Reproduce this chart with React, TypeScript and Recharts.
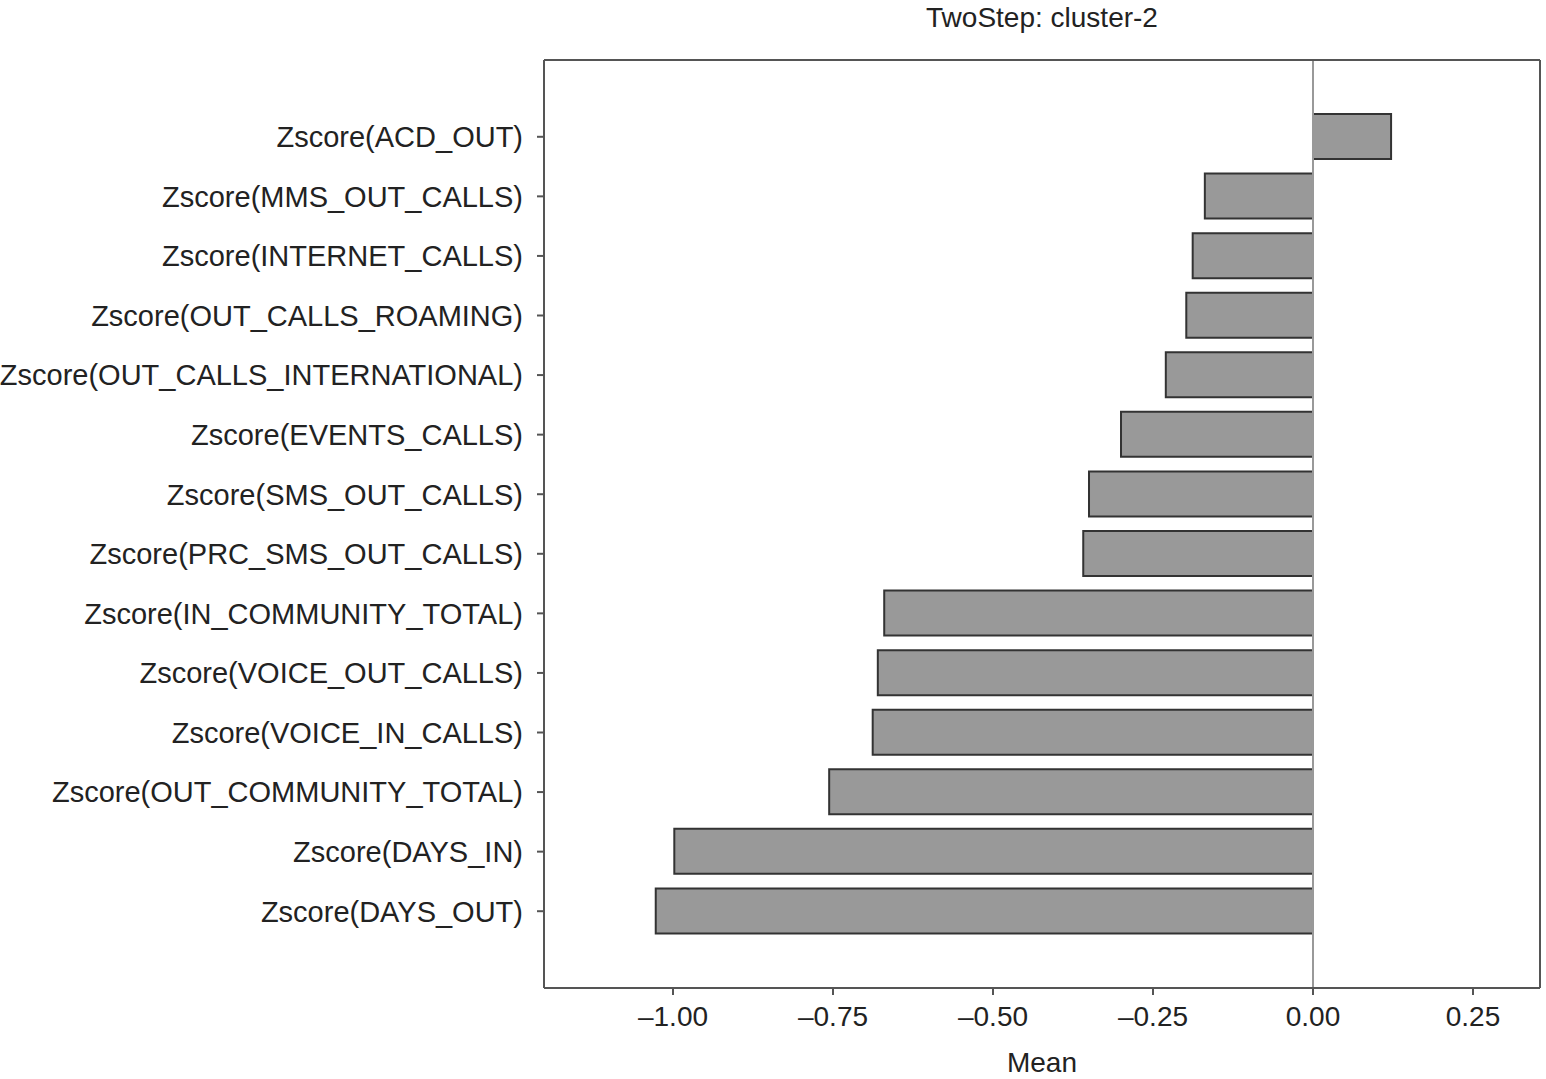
import { Bar, BarChart, ReferenceLine, XAxis, YAxis } from "recharts";

const variables = [
  "Zscore(ACD_OUT)",
  "Zscore(MMS_OUT_CALLS)",
  "Zscore(INTERNET_CALLS)",
  "Zscore(OUT_CALLS_ROAMING)",
  "Zscore(OUT_CALLS_INTERNATIONAL)",
  "Zscore(EVENTS_CALLS)",
  "Zscore(SMS_OUT_CALLS)",
  "Zscore(PRC_SMS_OUT_CALLS)",
  "Zscore(IN_COMMUNITY_TOTAL)",
  "Zscore(VOICE_OUT_CALLS)",
  "Zscore(VOICE_IN_CALLS)",
  "Zscore(OUT_COMMUNITY_TOTAL)",
  "Zscore(DAYS_IN)",
  "Zscore(DAYS_OUT)",
];

const means = [
  0.122, -0.169, -0.188, -0.198, -0.23, -0.3, -0.35, -0.359, -0.67, -0.68, -0.688, -0.756, -0.998,
  -1.027,
];

const xTicks = [-1, -0.75, -0.5, -0.25, 0, 0.25];

const data = variables.map((name, i) => ({ name, mean: means[i] }));

const FONT = "'Liberation Sans', Arial, sans-serif";
const INK = "#222";
const FRAME = "#555";
const DOMAIN: [number, number] = [-1.2016, 0.3547];

const fmt = (v: number) => (v < 0 ? "\u2013" + Math.abs(v).toFixed(2) : v.toFixed(2));

export default function App() {
  return (
    <div style={{ position: "absolute", left: 0, top: 0, width: 1546, height: 1079, background: "#fff", fontFamily: FONT }}>
      <div
        style={{
          position: "absolute",
          left: 544,
          width: 996,
          top: 2,
          textAlign: "center",
          fontSize: 28,
          color: INK,
        }}
      >
        TwoStep: cluster-2
      </div>
      <BarChart
        width={1546}
        height={1079}
        data={data}
        layout="vertical"
        margin={{ top: 59, right: 5, bottom: 0, left: 0 }}
      >
        <XAxis
          type="number"
          domain={DOMAIN}
          ticks={xTicks}
          tickFormatter={fmt}
          allowDataOverflow
          height={91}
          tickSize={7}
          tickMargin={11}
          stroke={FRAME}
          strokeWidth={2}
          tick={{ fill: INK, fontSize: 28, fontFamily: FONT }}
          label={{ value: "Mean", position: "insideBottom", offset: 7, fill: INK, fontSize: 28, fontFamily: FONT }}
        />
        <XAxis
          xAxisId="top"
          orientation="top"
          type="number"
          domain={DOMAIN}
          allowDataOverflow
          height={1}
          tick={false}
          tickLine={false}
          stroke={FRAME}
          strokeWidth={2}
        />
        <YAxis
          type="category"
          dataKey="name"
          width={544}
          padding={{ top: 47, bottom: 47 }}
          tickSize={7}
          tickMargin={14}
          interval={0}
          stroke={FRAME}
          strokeWidth={2}
          tick={{ fill: INK, fontSize: 29, fontFamily: FONT }}
        />
        <YAxis
          yAxisId="right"
          orientation="right"
          type="category"
          dataKey="name"
          width={1}
          tick={false}
          tickLine={false}
          stroke={FRAME}
          strokeWidth={2}
        />
        <ReferenceLine x={0} stroke="#999" strokeWidth={2} />
        <Bar dataKey="mean" fill="#999999" stroke="#333" strokeWidth={2} barSize={45} isAnimationActive={false} />
      </BarChart>
    </div>
  );
}
